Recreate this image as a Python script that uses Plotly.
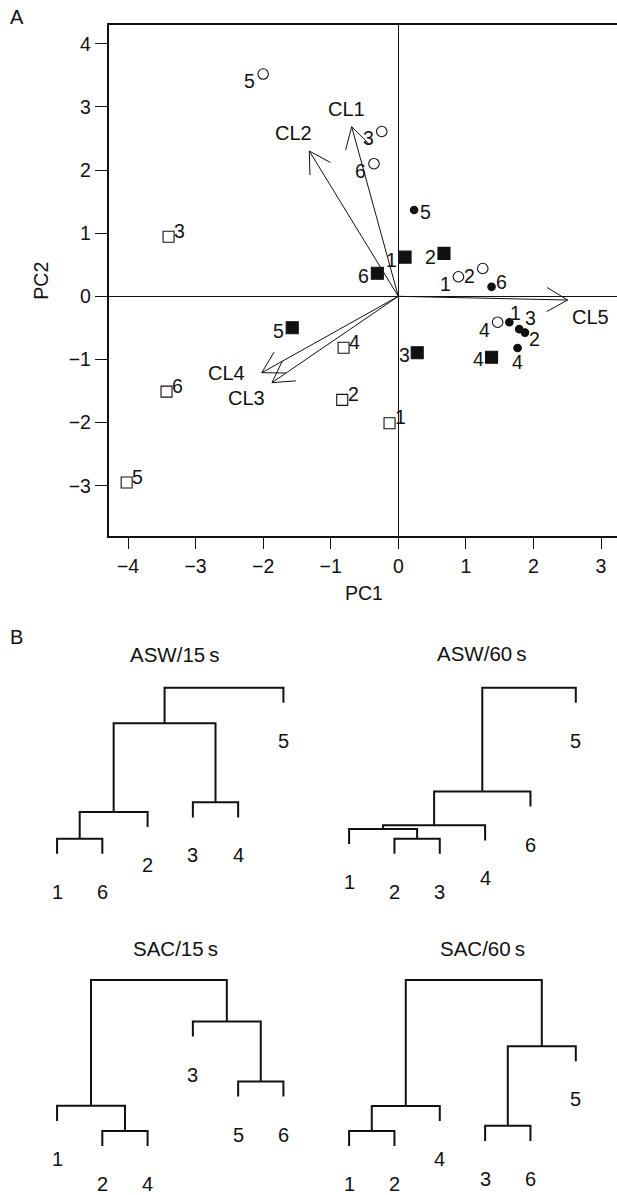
import math
import plotly.graph_objects as go

W, H = 617, 1195
FONT = "Liberation Sans, Arial, Helvetica, sans-serif"
INK = "#111111"

# ---------------- Panel A data (PCA biplot) ----------------
point_ids = ["1", "2", "3", "4", "5", "6"]

open_circle_pc1 = [0.89, 1.25, -0.245, 1.47, -2.00, -0.36]
open_circle_pc2 = [0.31, 0.44, 2.61, -0.41, 3.52, 2.10]

filled_circle_pc1 = [1.643, 1.875, 1.79, 1.765, 0.234, 1.38]
filled_circle_pc2 = [-0.41, -0.575, -0.52, -0.82, 1.367, 0.15]

filled_square_pc1 = [0.10, 0.676, 0.28, 1.38, -1.57, -0.31]
filled_square_pc2 = [0.62, 0.68, -0.893, -0.966, -0.497, 0.364]

open_square_pc1 = [-0.13, -0.83, -3.40, -0.81, -4.02, -3.43]
open_square_pc2 = [-2.01, -1.64, 0.944, -0.814, -2.95, -1.51]

loading_names = ["CL1", "CL2", "CL3", "CL4", "CL5"]
loading_pc1 = [-0.69, -1.317, -1.87, -2.02, 2.507]
loading_pc2 = [2.686, 2.301, -1.368, -1.21, -0.059]
loading_label_pc1 = [-0.76, -1.55, -2.24, -2.54, 2.84]
loading_label_pc2 = [2.966, 2.58, -1.615, -1.22, -0.323]

pc1_ticks = [-4, -3, -2, -1, 0, 1, 2, 3]
pc2_ticks = [-3, -2, -1, 0, 1, 2, 3, 4]

# ---------------- Panel B data (dendrograms) ----------------
tree_titles = ["ASW/15\u2009s", "ASW/60\u2009s", "SAC/15\u2009s", "SAC/60\u2009s"]

asw15_merge = [(-1, -6), (1, -2), (-3, -4), (2, 3), (4, -5)]
asw15_height = [0.78, 1.45, 1.69, 3.67, 4.56]
asw15_order = [1, 6, 2, 3, 4, 5]

asw60_merge = [(-2, -3), (-1, 1), (2, -4), (3, -6), (4, -5)]
asw60_height = [0.775, 1.02, 1.11, 1.96, 4.56]
asw60_order = [1, 2, 3, 4, 6, 5]

sac15_merge = [(-2, -4), (-1, 1), (-5, -6), (-3, 3), (2, 4)]
sac15_height = [0.85, 1.48, 2.09, 3.59, 4.625]
sac15_order = [1, 2, 4, 3, 5, 6]

sac60_merge = [(-1, -2), (-3, -6), (1, -4), (2, -5), (3, 4)]
sac60_height = [0.85, 0.98, 1.475, 2.97, 4.625]
sac60_order = [1, 2, 4, 3, 6, 5]

# ---------------- layout geometry (pixels) ----------------
BX0, BX1, BY0, BY1 = 108.6, 617.0, 25.0, 535.7
X0PX, KX = 398.3, 67.57
Y0PX, KY = 296.3, 63.14


def xrange_for(d0, d1, v0, p0, k):
    return [v0 + (d0 - p0) / k, v0 + (d1 - p0) / k]


def yrange_for(d0, d1, v0, p0, k):
    return [v0 - (d1 - p0) / k, v0 + (p0 - d0) / k]


def xdom(d0, d1):
    return [d0 / W, d1 / W]


def ydom(d0, d1):
    return [1 - d1 / H, 1 - d0 / H]


def txt(size):
    return dict(size=size, color=INK, family=FONT)


CENTER = dict(xanchor="center", yanchor="middle", showarrow=False, borderpad=0)

fig = go.Figure()

# label offsets in px (dx right, dy down) -- styling only
OFF_OPEN_CIRCLE = [(-13.4, 7.3), (-13.4, 7.3), (-13, 6.3), (-13, 7.7), (-13.4, 7.3), (-13.8, 7.3)]
OFF_FILLED_CIRCLE = [(5.7, -9.4), (10, 6.7), (11.3, -10.7), (0, 14.3), (11.8, 1.7), (10, -5)]
OFF_FILLED_SQUARE = [(-13.4, 3.3), (-13.4, 3.3), (-13, 2.3), (-13, 1.7), (-13.8, 3), (-13.8, 2.3)]
OFF_OPEN_SQUARE = [(10.8, -6)] * 6

groups = [
    (open_circle_pc1, open_circle_pc2, "circle-open", 10.5, OFF_OPEN_CIRCLE),
    (filled_circle_pc1, filled_circle_pc2, "circle", 7.5, OFF_FILLED_CIRCLE),
    (filled_square_pc1, filled_square_pc2, "square", 12, OFF_FILLED_SQUARE),
    (open_square_pc1, open_square_pc2, "square-open", 11, OFF_OPEN_SQUARE),
]

annotations = []

# arrows: shafts and open V heads computed in pixel space
ax_x, ax_y = [], []
HEAD_LEN, HEAD_ANG = 24.0, math.radians(30)
for tx, ty in zip(loading_pc1, loading_pc2):
    ax_x += [0, tx, None]
    ax_y += [0, ty, None]
    px, py = tx * KX, -ty * KY
    L = math.hypot(px, py)
    bx, by = -px / L, -py / L
    for s in (1, -1):
        c, sn = math.cos(s * HEAD_ANG), math.sin(s * HEAD_ANG)
        rx, ry = bx * c - by * sn, bx * sn + by * c
        ex, ey = px + HEAD_LEN * rx, py + HEAD_LEN * ry
        ax_x += [tx, ex / KX, None]
        ax_y += [ty, -ey / KY, None]
fig.add_trace(go.Scatter(x=ax_x, y=ax_y, mode="lines",
                         line=dict(color=INK, width=1), showlegend=False,
                         hoverinfo="skip", xaxis="x", yaxis="y"))

for xs, ys, sym, size, offs in groups:
    fig.add_trace(go.Scatter(
        x=xs, y=ys, mode="markers",
        marker=dict(symbol=sym, size=size, color=INK,
                    line=dict(color=INK, width=1.1)),
        showlegend=False, xaxis="x", yaxis="y"))
    for x, y, lab, (dx, dy) in zip(xs, ys, point_ids, offs):
        annotations.append(dict(x=x, y=y, xref="x", yref="y", text=lab,
                                xshift=dx, yshift=-dy, font=txt(19.5), **CENTER))

for name, lx, ly in zip(loading_names, loading_label_pc1, loading_label_pc2):
    annotations.append(dict(x=lx, y=ly, xref="x", yref="y", text=name,
                            font=txt(20), **CENTER))

axis_common = dict(showgrid=False, ticks="outside", ticklen=12, tickwidth=1.2,
                   tickcolor=INK, showline=True, linecolor=INK, linewidth=1.5,
                   zeroline=True, zerolinecolor=INK, zerolinewidth=1,
                   tickfont=txt(19.5))

layout_axes = {
    "xaxis": dict(domain=xdom(BX0, BX1), range=xrange_for(BX0, BX1, 0, X0PX, KX),
                  tickvals=pc1_ticks, ticktext=[str(t).replace("-", "\u2212") for t in pc1_ticks],
                  mirror=True, anchor="y", **axis_common),
    "yaxis": dict(domain=ydom(BY0, BY1), range=yrange_for(BY0, BY1, 0, Y0PX, KY),
                  tickvals=pc2_ticks, ticktext=[str(t).replace("-", "\u2212") for t in pc2_ticks],
                  anchor="x", **axis_common),
}

annotations.append(dict(x=364 / W, y=1 - 593.3 / H, xref="paper", yref="paper",
                        text="PC1", font=txt(19.5), **CENTER))
annotations.append(dict(x=41.3 / W, y=1 - 280.4 / H, xref="paper", yref="paper",
                        text="PC2", textangle=-90, font=txt(19.5), **CENTER))
annotations.append(dict(x=16.7 / W, y=1 - 16.7 / H, xref="paper", yref="paper",
                        text="A", font=txt(20), **CENTER))
annotations.append(dict(x=16.5 / W, y=1 - 636.7 / H, xref="paper", yref="paper",
                        text="B", font=txt(20), **CENTER))


# ---------------- Panel B: dendrograms ----------------
def dendro(merge, height, order):
    pos = {leaf: i + 1 for i, leaf in enumerate(order)}
    hang = 0.1 * (max(height) - min(height))
    node_x, node_y = {}, {}
    xs, ys, leaf_ends = [], [], {}
    for i, (a, b) in enumerate(merge):
        h = height[i]
        pts = []
        for c in (a, b):
            if c < 0:
                cx, cy = pos[-c], h - hang
                leaf_ends[-c] = (cx, cy)
            else:
                cx, cy = node_x[c], node_y[c]
            pts.append((cx, cy))
        (xl, yl), (xr, yr) = pts
        xs += [xl, xl, xr, xr, None]
        ys += [yl, h, h, yr, None]
        node_x[i + 1] = (xl + xr) / 2
        node_y[i + 1] = h
    return xs, ys, leaf_ends


trees = [
    (asw15_merge, asw15_height, asw15_order),
    (asw60_merge, asw60_height, asw60_order),
    (sac15_merge, sac15_height, sac15_order),
    (sac60_merge, sac60_height, sac60_order),
]
# panel placement (pixels): x domain, first-leaf px, leaf spacing, y domain, root px, title pos
panels = [
    ((0, 305), 57.06, 45.27, (670, 900), 687.7, (175.2, 654.0)),
    ((305, 617), 349.1, 45.34, (670, 900), 687.7, (482.1, 653.5)),
    ((0, 305), 57.06, 45.27, (965, 1192), 980.0, (175.1, 948.3)),
    ((305, 617), 349.1, 45.34, (965, 1192), 980.0, (482.1, 948.3)),
]
TREE_SPAN_PX = 151.0

for i, ((merge, height, order), title, pan) in enumerate(zip(trees, tree_titles, panels)):
    (dx0, dx1), leaf1px, kx, (dy0, dy1), rootpx, (tx, ty) = pan
    n = i + 2
    xs, ys, ends = dendro(merge, height, order)
    ky = TREE_SPAN_PX / (max(height) - min(height))
    xa, ya = f"x{n}", f"y{n}"
    fig.add_trace(go.Scatter(x=xs, y=ys, mode="lines",
                             line=dict(color=INK, width=2),
                             showlegend=False, hoverinfo="skip",
                             xaxis=xa, yaxis=ya))
    layout_axes[f"xaxis{n}"] = dict(domain=xdom(dx0, dx1),
                                    range=xrange_for(dx0, dx1, 1, leaf1px, kx),
                                    visible=False, anchor=ya)
    layout_axes[f"yaxis{n}"] = dict(domain=ydom(dy0, dy1),
                                    range=yrange_for(dy0, dy1, max(height), rootpx, ky),
                                    visible=False, anchor=xa)
    for leaf, (lx, ly) in ends.items():
        annotations.append(dict(x=lx, y=ly, xref=xa, yref=ya, text=str(leaf),
                                yshift=-38, font=txt(20), **CENTER))
    annotations.append(dict(x=tx / W, y=1 - ty / H, xref="paper", yref="paper",
                            text=title, font=txt(20.5), **CENTER))

fig.update_layout(width=W, height=H, margin=dict(l=0, r=0, t=0, b=0),
                  paper_bgcolor="white", plot_bgcolor="white",
                  font=dict(family=FONT, color=INK),
                  annotations=annotations, **layout_axes)

fig.write_html("out.html",
               config={"displayModeBar": False},
               post_script="document.body.style.margin='0px';"
                           "document.body.style.padding='0px';"
                           "document.body.style.overflow='hidden';")
